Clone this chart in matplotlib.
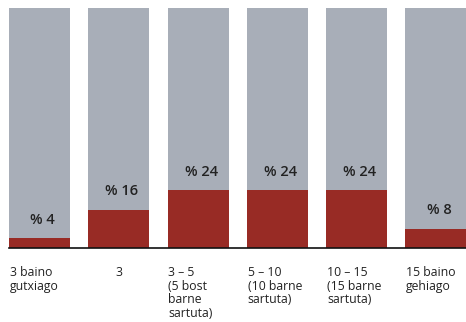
import matplotlib.pyplot as plt

# data
categories = ['3 baino\ngutxiago', '3', '3 – 5\n(5 bost\nbarne\nsartuta)',
              '5 – 10\n(10 barne\nsartuta)', '10 – 15\n(15 barne\nsartuta)',
              '15 baino\ngehiago']
values = [4, 16, 24, 24, 24, 8]
value_labels = ['% 4', '% 16', '% 24', '% 24', '% 24', '% 8']
total = 100

gray = '#a8aeb8'
red = '#982b25'
width = 0.77

fig = plt.figure(figsize=(4.66, 3.22), dpi=100)
ax = fig.add_axes([0, 0, 1, 1])

x = list(range(len(values)))
ax.bar(x, [total] * len(values), width=width, color=gray, zorder=1)
ax.bar(x, values, width=width, color=red, zorder=2)

# value labels above the red part
for i, (v, lab) in enumerate(zip(values, value_labels)):
    ax.text(i + 0.04, v + 7.8, lab, ha='center', va='center',
            fontsize=10.5, color='#222222', fontweight='semibold',
            family='Open Sans')

# category labels under the baseline
for i, cat in enumerate(categories):
    if cat == '3':
        ax.text(i, -7.4, cat, ha='center', va='top', fontsize=8.8,
                color='#222222', family='Open Sans', linespacing=1.08,
                fontweight='medium')
    else:
        ax.text(i - width / 2 + 0.01, -7.4, cat, ha='left', va='top',
                fontsize=8.8, color='#222222', family='Open Sans',
                linespacing=1.08, fontweight='medium')

# baseline
ax.plot([-width / 2, 6], [0, 0], color='#111111', lw=1.2, zorder=3,
        clip_on=False)

ax.set_xlim(-0.498, 5.378)
ax.set_ylim(-30.83, 103.33)
ax.axis('off')

fig.savefig('out.png', dpi=100)
